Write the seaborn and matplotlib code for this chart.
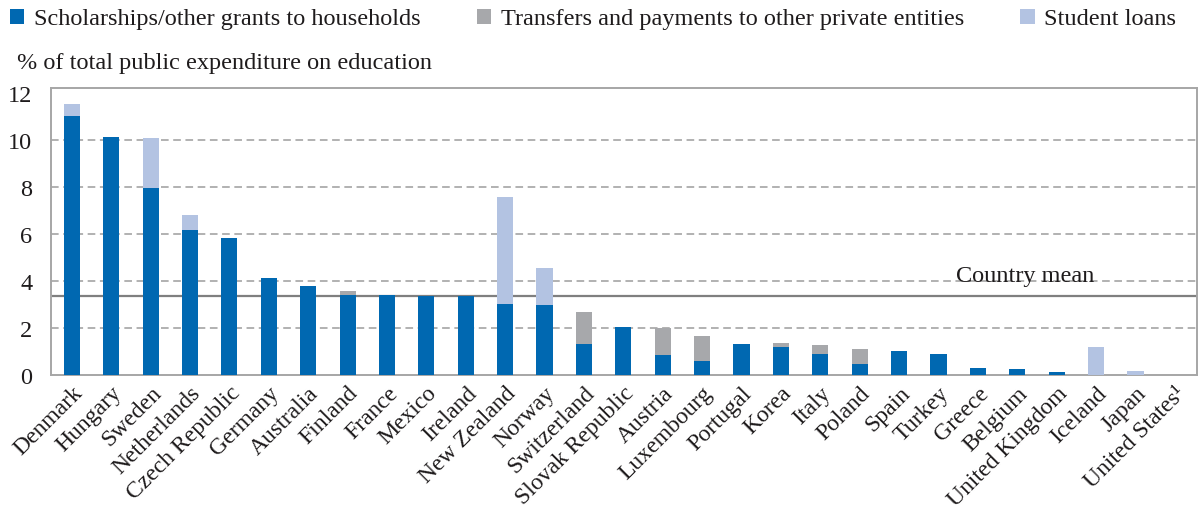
import matplotlib
matplotlib.use("Agg")
import matplotlib.pyplot as plt
from matplotlib.patches import Patch
from matplotlib.transforms import ScaledTranslation
import seaborn as sns
import pandas as pd

countries = ["Denmark", "Hungary", "Sweden", "Netherlands", "Czech Republic", "Germany",
             "Australia", "Finland", "France", "Mexico", "Ireland", "New Zealand", "Norway",
             "Switzerland", "Slovak Republic", "Austria", "Luxembourg", "Portugal", "Korea",
             "Italy", "Poland", "Spain", "Turkey", "Greece", "Belgium", "United Kingdom",
             "Iceland", "Japan", "United States\u00b9"]
scholarships = [11.0, 10.13, 7.96, 6.18, 5.84, 4.14, 3.76, 3.38, 3.38, 3.35, 3.35, 3.0, 2.96,
                1.30, 2.02, 0.84, 0.58, 1.30, 1.18, 0.88, 0.45, 1.0, 0.88, 0.29, 0.24, 0.11,
                0.0, 0.0, 0.0]
transfers = [0.0, 0.0, 0.0, 0.0, 0.0, 0.0, 0.0, 0.17, 0.0, 0.0, 0.0, 0.0, 0.0,
             1.36, 0.0, 1.14, 1.06, 0.0, 0.17, 0.38, 0.64, 0.0, 0.0, 0.0, 0.0, 0.0,
             0.0, 0.0, 0.0]
loans = [0.53, 0.0, 2.12, 0.64, 0.0, 0.0, 0.0, 0.0, 0.0, 0.0, 0.0, 4.58, 1.57,
         0.0, 0.0, 0.0, 0.0, 0.0, 0.0, 0.0, 0.0, 0.0, 0.0, 0.0, 0.0, 0.0,
         1.18, 0.16, 0.0]
country_mean = 3.37
series_names = ["Scholarships/other grants to households",
                "Transfers and payments to other private entities",
                "Student loans"]

BLUE = "#0068B1"
GREY = "#A7A8AB"
LIGHT = "#B3C3E2"
INK = "#1E1B1C"

df = pd.DataFrame({"country": countries, "sch": scholarships,
                   "tr": transfers, "loan": loans})
df["lvl2"] = df["sch"] + df["tr"]
df["lvl3"] = df["lvl2"] + df["loan"]

sns.set_theme(style="white")
plt.rcParams["font.family"] = ["Liberation Serif", "DejaVu Serif"]
plt.rcParams["text.color"] = INK

fig = plt.figure(figsize=(12.03, 5.11), dpi=100)
ax = fig.add_axes([0.042, 0.2667, 0.953, 0.5605])

# stacked bars drawn as cumulative layers, tallest first
for col, colour in [("lvl3", LIGHT), ("lvl2", GREY), ("sch", BLUE)]:
    sns.barplot(data=df, x="country", y=col, color=colour, width=0.41,
                saturation=1, ax=ax, zorder=3, linewidth=0)

ax.set_ylim(0, 12.2)
ax.set_xlim(-0.54, len(countries) - 0.44)
ax.set_yticks([0, 2, 4, 6, 8, 10, 12])
ax.set_ylabel("")
ax.set_xlabel("")
for v in [2, 4, 6, 8, 10]:
    ax.axhline(v, color="#9C9C9C", lw=1.1, ls=(0, (5, 3)), zorder=1)
ax.axhline(country_mean, color="#7F7F7F", lw=1.6, zorder=2)
ax.text(24.2, 4.2, "Country mean", ha="center", va="center", fontsize=17.5, zorder=4)

for s in ax.spines.values():
    s.set_color("#A6A6A6")
    s.set_linewidth(1.4)
ax.tick_params(axis="y", length=0, labelsize=17.5, colors=INK, pad=13)
ax.tick_params(axis="x", length=0, labelsize=17, colors=INK, pad=6)
shift = ScaledTranslation(0, -4 / 100, fig.dpi_scale_trans)
for lab in ax.get_yticklabels():
    lab.set_va("center")
    lab.set_transform(lab.get_transform() + shift)
plt.setp(ax.get_xticklabels(), rotation=45, ha="right", rotation_mode="anchor")

fig.text(0.014, 0.876, "% of total public expenditure on education", fontsize=17.5,
         ha="left", va="center")

handles = [Patch(facecolor=c, edgecolor="none") for c in (BLUE, GREY, LIGHT)]
fig.legend(handles, series_names, loc="center left", bbox_to_anchor=(0.0, 0.962),
           ncol=3, frameon=False, fontsize=17.5, handlelength=0.6, handleheight=0.6,
           handletextpad=0.4, columnspacing=2.3, borderaxespad=0)

fig.savefig("out.png", dpi=100)
